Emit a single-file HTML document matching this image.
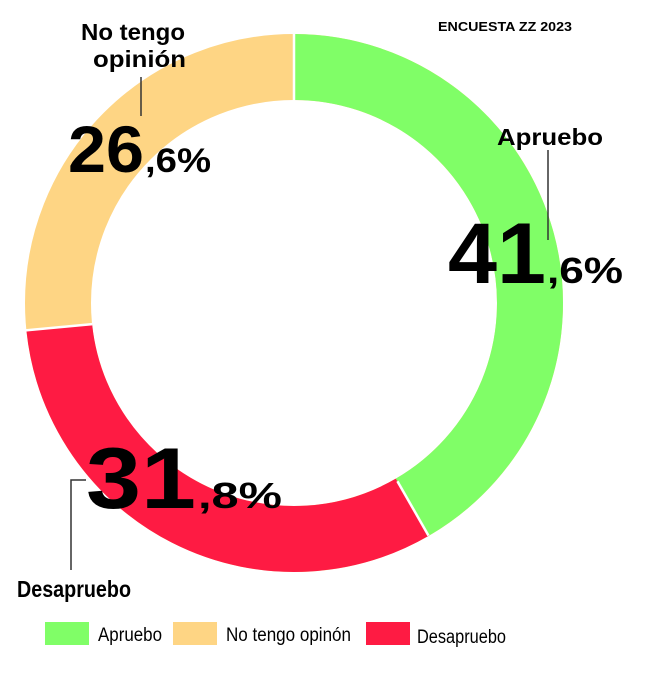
<!DOCTYPE html>
<html><head><meta charset="utf-8"><style>
html,body{margin:0;padding:0;background:#fff;}
svg{display:block;}
text{font-family:"Liberation Sans",sans-serif;fill:#000;}
</style></head><body>
<svg width="660" height="674" viewBox="0 0 660 674">
<circle cx="294" cy="303" r="236" fill="none" stroke="#fed584" stroke-width="66"/>
<path d="M294 67 A236 236 0 0 1 412.3 507.2" fill="none" stroke="#80fe67" stroke-width="66"/>
<path d="M412.3 507.2 A236 236 0 0 1 59.3 327.7" fill="none" stroke="#fe1b43" stroke-width="66"/>
<g stroke="#fff" stroke-width="2.5">
<line x1="294" y1="34" x2="294" y2="100"/>
<line x1="397.4" y1="481.2" x2="428.5" y2="535.6"/>
<line x1="25.5" y1="330.4" x2="92.3" y2="324.1"/>
</g>
<text x="438" y="31" font-size="13" font-weight="bold" textLength="134" lengthAdjust="spacingAndGlyphs">ENCUESTA ZZ 2023</text>
<text x="81" y="40" font-size="23" font-weight="bold" textLength="104" lengthAdjust="spacingAndGlyphs">No tengo</text>
<text x="93" y="67" font-size="23" font-weight="bold" textLength="93" lengthAdjust="spacingAndGlyphs">opinión</text>
<line x1="141" y1="77" x2="141" y2="116" stroke="#333" stroke-width="1.5"/>
<text x="68" y="172" font-size="66" font-weight="bold" textLength="76" lengthAdjust="spacingAndGlyphs">26</text>
<text x="145" y="172" font-size="34" font-weight="bold" textLength="66" lengthAdjust="spacingAndGlyphs">,6%</text>
<text x="497" y="145" font-size="23" font-weight="bold" textLength="106" lengthAdjust="spacingAndGlyphs">Apruebo</text>
<line x1="548" y1="150" x2="548" y2="240" stroke="#333" stroke-width="1.5"/>
<text x="448" y="283" font-size="86" font-weight="bold" textLength="98" lengthAdjust="spacingAndGlyphs">41</text>
<text x="547" y="283" font-size="36" font-weight="bold" textLength="76" lengthAdjust="spacingAndGlyphs">,6%</text>
<text x="86" y="508" font-size="86" font-weight="bold" textLength="110" lengthAdjust="spacingAndGlyphs">31</text>
<text x="198" y="508" font-size="36" font-weight="bold" textLength="84" lengthAdjust="spacingAndGlyphs">,8%</text>
<polyline points="86,480 71,480 71,570" fill="none" stroke="#333" stroke-width="1.5"/>
<text x="17" y="597" font-size="23" font-weight="bold" textLength="114" lengthAdjust="spacingAndGlyphs">Desapruebo</text>
<rect x="45" y="622" width="44" height="23" fill="#80fe67"/>
<text x="98" y="641" font-size="19" textLength="64" lengthAdjust="spacingAndGlyphs">Apruebo</text>
<rect x="173" y="622" width="44" height="23" fill="#fed584"/>
<text x="226" y="641" font-size="19" textLength="125" lengthAdjust="spacingAndGlyphs">No tengo opinón</text>
<rect x="366" y="622" width="44" height="23" fill="#fe1b43"/>
<text x="417" y="643" font-size="19" textLength="89" lengthAdjust="spacingAndGlyphs">Desapruebo</text>
</svg>
</body></html>
